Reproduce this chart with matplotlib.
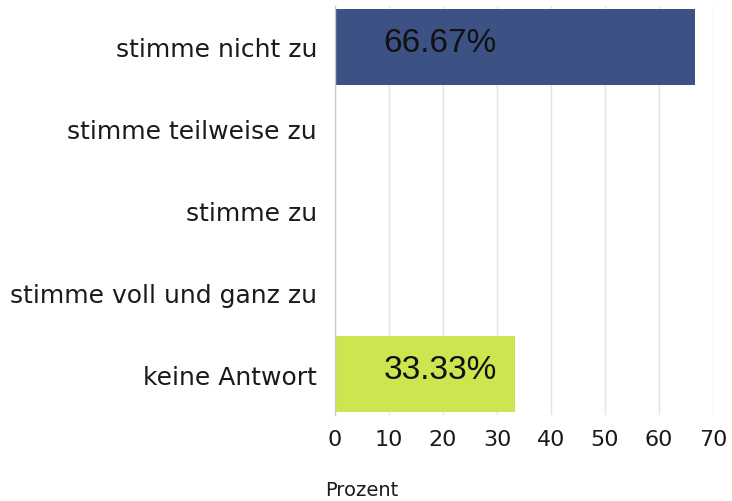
import matplotlib
matplotlib.use("Agg")
import matplotlib.pyplot as plt

categories = ["stimme nicht zu", "stimme teilweise zu", "stimme zu",
              "stimme voll und ganz zu", "keine Antwort"]
values = [66.67, 0, 0, 0, 33.33]
labels = ["66.67%", "", "", "", "33.33%"]
colors = ["#3c5284", "#3c5284", "#3c5284", "#3c5284", "#cde54f"]
xticks = [0, 10, 20, 30, 40, 50, 60, 70]

W, H = 732, 502
fig = plt.figure(figsize=(W / 100, H / 100), dpi=100)
ax = fig.add_axes([335 / W, 1 - 416 / H, (713 - 335) / W, (416 - 7) / H])

ypos = list(range(len(categories)))
bh = 0.92
for y, v, c in zip(ypos, values, colors):
    if v <= 0:
        continue
    ax.barh(y, v, height=bh, color=c, edgecolor="none", zorder=2)

for y, v, t in zip(ypos, values, labels):
    if t:
        ax.annotate(t, xy=(0, y), xytext=(35, 3), textcoords="offset points",
                    ha="left", va="center", fontsize=24,
                    family="Liberation Sans", color="#111111", zorder=3)

ax.set_xlim(0, 70)
ax.set_ylim(len(categories) - 0.5, -0.5)
ax.set_yticks(ypos)
ax.set_yticklabels(categories, family="DejaVu Sans", fontsize=18, color="#1a1a1a")
ax.set_xticks(xticks)
ax.set_xticklabels([str(x) for x in xticks], family="DejaVu Sans", fontsize=16, color="#1a1a1a")
ax.tick_params(axis="both", length=0)
ax.tick_params(axis="y", pad=13)
ax.tick_params(axis="x", pad=10)
ax.grid(axis="x", color="#e4e4e4", linewidth=1, zorder=0)
ax.set_axisbelow(True)
for s in ["top", "right", "bottom"]:
    ax.spines[s].set_visible(False)
ax.spines["left"].set_color("#cccccc")
ax.spines["left"].set_linewidth(1)

fig.text(325 / W, 1 - 491 / H, "Prozent", family="DejaVu Sans", fontsize=14,
         color="#1a1a1a", ha="left", va="center")

fig.savefig("out.png", dpi=100)
